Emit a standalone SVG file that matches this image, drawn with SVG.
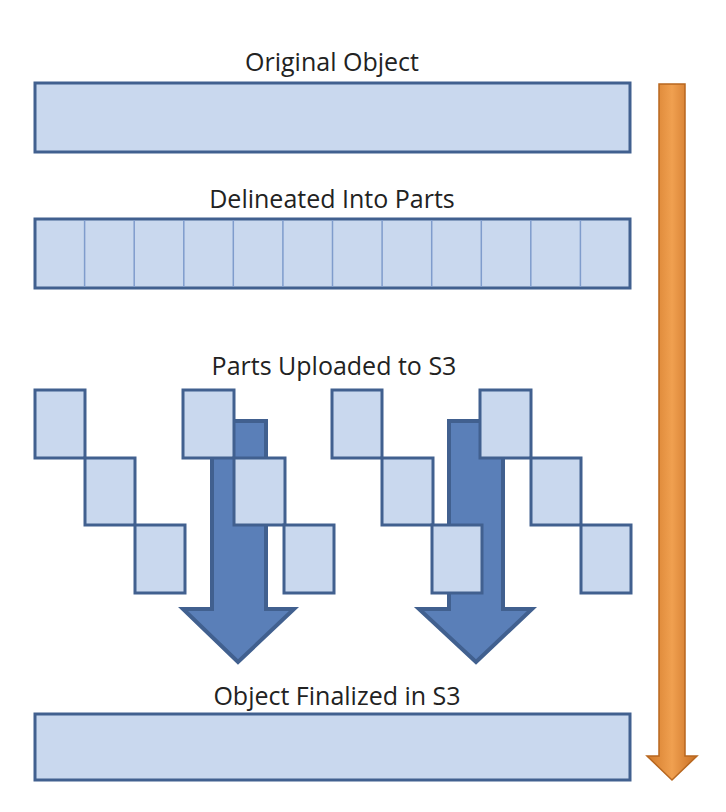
<svg xmlns="http://www.w3.org/2000/svg" width="726" height="812" viewBox="0 0 726 812">
<style>
.b{fill:#c9d8ee;stroke:#41608f;stroke-width:3}
.c{fill:none;stroke:#7f9ccc;stroke-width:1.5}
.a{fill:#5a7fb8;stroke:#41608f;stroke-width:4;stroke-linejoin:miter}
.t{font-family:"Open Sans","Liberation Sans",sans-serif;font-size:25px;fill:#222;text-anchor:middle}
</style>
<defs>
<linearGradient id="og" x1="0" x2="1" y1="0" y2="0">
<stop offset="0" stop-color="#d27a2a"/><stop offset="0.5" stop-color="#f0a050"/><stop offset="1" stop-color="#c86e22"/>
</linearGradient>
</defs>
<rect width="726" height="812" fill="#fff"/>
<g id="connectors">
<path d="M659,84 L685,84 L685,756 L697,756 L672,780 L647,756 L659,756 Z" fill="url(#og)" stroke="#b8671f" stroke-width="1.5"/>
<path class="a" d="M212,421 L266,421 L266,609 L294,609 L238,662 L183,609 L212,609 Z"/>
<path class="a" d="M449,421 L503,421 L503,609 L532,609 L476,662 L419,609 L449,609 Z"/>
</g>
<g id="original">
<text class="t" x="332" y="71">Original Object</text>
<rect class="b" x="35" y="83" width="595" height="69"/>
</g>
<g id="delineated">
<text class="t" x="332" y="208">Delineated Into Parts</text>
<rect class="b" x="35" y="219" width="595" height="69"/>
<path class="c" d="M84.6,220V287M134.2,220V287M183.8,220V287M233.3,220V287M282.9,220V287M332.5,220V287M382.1,220V287M431.7,220V287M481.3,220V287M530.8,220V287M580.4,220V287"/>
</g>
<g id="parts">
<text class="t" x="334" y="375">Parts Uploaded to S3</text>
<rect class="b" x="35" y="390" width="50" height="68"/>
<rect class="b" x="85" y="458" width="50" height="67"/>
<rect class="b" x="135" y="525" width="50" height="68"/>
<rect class="b" x="183" y="390" width="51" height="68"/>
<rect class="b" x="234" y="458" width="51" height="67"/>
<rect class="b" x="284" y="525" width="50" height="68"/>
<rect class="b" x="332" y="390" width="50" height="68"/>
<rect class="b" x="382" y="458" width="51" height="67"/>
<rect class="b" x="432" y="525" width="50" height="68"/>
<rect class="b" x="480" y="390" width="51" height="68"/>
<rect class="b" x="531" y="458" width="50" height="67"/>
<rect class="b" x="581" y="525" width="50" height="68"/>
</g>
<g id="final">
<text class="t" x="337" y="705">Object Finalized in S3</text>
<rect class="b" x="35" y="714" width="595" height="66"/>
</g>
</svg>
